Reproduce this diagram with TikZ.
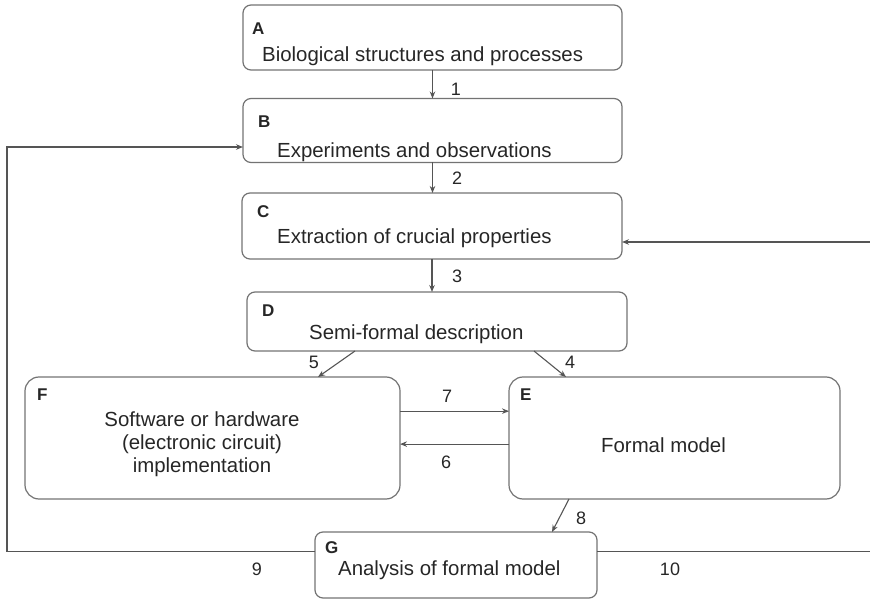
\documentclass[tikz,border=0pt]{standalone}
\usepackage{fontspec}
\setmainfont{Liberation Sans}
\usetikzlibrary{arrows.meta,calc}
\definecolor{ink}{HTML}{262626}
\definecolor{wire}{HTML}{555555}
\definecolor{frame}{HTML}{737373}

\begin{document}
\begin{tikzpicture}[x=1pt,y=-1pt,
  box/.style={draw=frame, line width=1.2pt, rounded corners=8pt, inner sep=0pt, outer sep=0pt},
  bigbox/.style={box, rounded corners=14pt},
  txt/.style={font=\fontsize{20.4}{23}\selectfont, text=ink, inner sep=0pt},
  tag/.style={font=\fontsize{17}{20}\selectfont\bfseries, text=ink, inner sep=0pt, anchor=base west},
  num/.style={font=\fontsize{18}{21}\selectfont, text=ink, inner sep=0pt},
  arr/.style={draw=wire, line width=1.1pt, -{Stealth[length=7pt,width=5.5pt]}}
]
\useasboundingbox (0,0) rectangle (870,601);

% boxes
\node[box, minimum width=379pt, minimum height=65pt] (A) at (432.5,37.5) {};
\node[box, minimum width=379pt, minimum height=64pt] (B) at (432.5,130.5) {};
\node[box, minimum width=380pt, minimum height=66pt] (C) at (432,226) {};
\node[box, minimum width=380pt, minimum height=59pt] (D) at (437,321.5) {};
\node[bigbox, minimum width=375pt, minimum height=122pt] (F) at (212.5,438) {};
\node[bigbox, minimum width=331pt, minimum height=122pt] (E) at (674.5,438) {};
\node[box, minimum width=282pt, minimum height=66pt] (G) at (456,565) {};

% box letters
\node[tag] (Atag) at (252,35) {A};
\node[tag] (Btag) at (258,128) {B};
\node[tag] (Ctag) at (257,218) {C};
\node[tag] (Dtag) at (262,317) {D};
\node[tag] (Ftag) at (37,401) {F};
\node[tag] (Etag) at (520,401) {E};
\node[tag] (Gtag) at (325,553) {G};

% box texts
\node[txt, anchor=base west] (Atxt) at (262,62) {Biological structures and processes};
\node[txt, anchor=base west] (Btxt) at (277,158) {Experiments and observations};
\node[txt, anchor=base west] (Ctxt) at (277,244) {Extraction of crucial properties};
\node[txt, anchor=base west] (Dtxt) at (309,340) {Semi-formal description};
\node[txt, align=center] (Ftxt) at (202,444) {Software or hardware\\(electronic circuit)\\implementation};
\node[txt] (Etxt) at (663.5,445) {Formal model};
\node[txt, anchor=base west] (Gtxt) at (338,575) {Analysis of formal model};

% connectors
\draw[arr] (A.south) -- (B.north);
\draw[arr] (B.south) -- (B.south |- C.north);
\draw[arr] (C.south) -- (C.south |- D.north);
\draw[arr] ([xshift=-82pt]D.south) -- ([xshift=105.5pt]F.north);
\draw[arr] ([xshift=97pt]D.south) -- ([xshift=-108.5pt]E.north);
\draw[arr] ($(F.north east)!0.28!(F.south east)$) -- ($(E.north west)!0.28!(E.south west)$);
\draw[arr] ($(E.north west)!0.55!(E.south west)$) -- ($(F.north east)!0.55!(F.south east)$);
\draw[arr] ([xshift=-105.5pt]E.south) -- ([xshift=96pt]G.north);

% feedback loops around the outside
\coordinate (lc) at (7,147);
\coordinate (rc) at (872,242);
\draw[arr] ($(G.north west)!0.29!(G.south west)$) -| (lc) -- (lc -| B.west);
\draw[arr] ($(G.north east)!0.29!(G.south east)$) -| (rc) -- (rc -| C.east);

% connector numbers
\node[num] (n1) at (456,89) {1};
\node[num] (n2) at (457,178) {2};
\node[num] (n3) at (457,276) {3};
\node[num] (n4) at (570,362) {4};
\node[num] (n5) at (314,362) {5};
\node[num] (n6) at (446,462) {6};
\node[num] (n7) at (447,396) {7};
\node[num] (n8) at (581,518) {8};
\node[num] (n9) at (257,569) {9};
\node[num] (n10) at (670,569) {10};
\end{tikzpicture}
\end{document}
